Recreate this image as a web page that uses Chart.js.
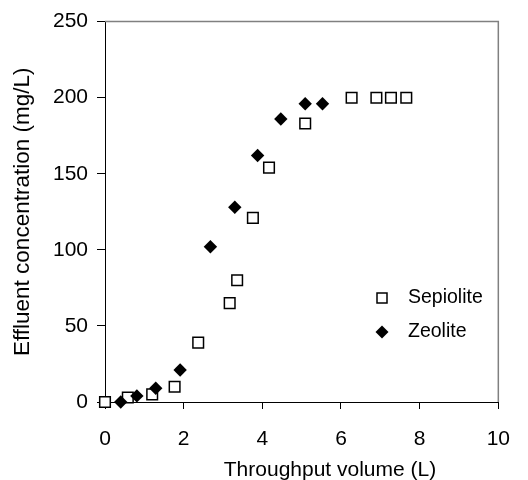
<!DOCTYPE html>
<html>
<head>
<meta charset="utf-8">
<script src="https://cdn.jsdelivr.net/npm/chart.js@4/dist/chart.umd.min.js"></script>
<style>
  html, body { margin: 0; padding: 0; background: #fff; }
  #wrap { width: 528px; height: 480px; }
</style>
</head>
<body>
<div id="wrap"><canvas id="myChart" width="528" height="480"></canvas></div>
<script>
// data
var seriesNames = ['Sepiolite', 'Zeolite'];
var sepioliteX = [0, 0.58, 1.2, 1.77, 2.37, 3.17, 3.36, 3.76, 4.17, 5.09, 6.27, 6.9, 7.27, 7.66];
var sepioliteY = [0, 3, 5, 10, 39, 65, 80, 121, 154, 183, 200, 200, 200, 200];
var zeoliteX = [0.4, 0.81, 1.29, 1.91, 2.68, 3.3, 3.88, 4.47, 5.09, 5.53];
var zeoliteY = [0, 4, 9, 21, 102, 128, 162, 186, 196, 196];
var xTicks = [0, 2, 4, 6, 8, 10];
var yTicks = [0, 50, 100, 150, 200, 250];
var xTitle = 'Throughput volume (L)';
var yTitle = 'Effluent concentration (mg/L)';

var FONT = 'Liberation Sans, Arial, sans-serif';

function toPoints(xs, ys) {
    var pts = [];
    for (var i = 0; i < xs.length; i++) {
        pts.push({ x: xs[i], y: ys[i] });
    }
    return pts;
}

// frame on top/right, x title (sits a bit right of centre) + legend inside the plot
var framePlugin = {
    id: 'frame',
    afterDraw: function(chart) {
        var ctx = chart.ctx;
        var a = chart.chartArea;
        ctx.save();
        ctx.strokeStyle = '#808080';
        ctx.lineWidth = 1.5;
        ctx.beginPath();
        ctx.moveTo(a.left, a.top);
        ctx.lineTo(a.right, a.top);
        ctx.lineTo(a.right, a.bottom);
        ctx.stroke();

        ctx.fillStyle = '#000';
        ctx.font = '21px ' + FONT;
        ctx.textAlign = 'center';
        ctx.textBaseline = 'alphabetic';
        ctx.fillText(xTitle, 330, 476);

        // legend
        var lx = 382, ly = 298, gap = 34;
        ctx.lineWidth = 1.5;
        ctx.strokeStyle = '#000';
        ctx.fillStyle = '#fff';
        ctx.beginPath();
        ctx.rect(lx - 5, ly - 5, 10, 10);
        ctx.fill();
        ctx.stroke();

        ctx.fillStyle = '#000';
        ctx.beginPath();
        ctx.moveTo(lx, ly + gap - 6.5);
        ctx.lineTo(lx + 6.5, ly + gap);
        ctx.lineTo(lx, ly + gap + 6.5);
        ctx.lineTo(lx - 6.5, ly + gap);
        ctx.closePath();
        ctx.fill();

        ctx.font = '19.5px ' + FONT;
        ctx.textBaseline = 'middle';
        ctx.textAlign = 'left';
        ctx.fillText(seriesNames[0], 408, ly);
        ctx.fillText(seriesNames[1], 408, ly + gap);
        ctx.restore();
    }
};

var config = {
    type: 'scatter',
    data: {
        datasets: [{
            label: seriesNames[0],
            data: toPoints(sepioliteX, sepioliteY),
            pointStyle: 'rect',
            pointRadius: 7.5,
            pointHoverRadius: 7.5,
            pointBackgroundColor: '#fff',
            pointBorderColor: '#000',
            pointBorderWidth: 1.5,
            clip: false,
            order: 2
        }, {
            label: seriesNames[1],
            data: toPoints(zeoliteX, zeoliteY),
            pointStyle: 'rectRot',
            pointRadius: 6.7,
            pointHoverRadius: 6.7,
            pointBackgroundColor: '#000',
            pointBorderColor: '#000',
            pointBorderWidth: 0,
            clip: false,
            order: 1
        }]
    },
    options: {
        responsive: false,
        animation: false,
        events: [],
        layout: { padding: { top: 15, right: 18, left: 0, bottom: 0 } },
        plugins: {
            legend: { display: false },
            tooltip: { enabled: false }
        },
        scales: {
            x: {
                type: 'linear',
                min: 0,
                max: 10,
                afterBuildTicks: function(scale) {
                    scale.ticks = xTicks.map(function(v) { return { value: v }; });
                },
                afterFit: function(scale) { scale.height = 78; },
                grid: { drawOnChartArea: false, tickLength: 7, color: '#000', tickColor: '#000' },
                border: { color: '#000', width: 1 },
                ticks: { color: '#000', font: { family: FONT, size: 21 }, padding: 18, maxRotation: 0 },
                title: { display: false }
            },
            y: {
                type: 'linear',
                min: 0,
                max: 250,
                afterBuildTicks: function(scale) {
                    scale.ticks = yTicks.map(function(v) { return { value: v }; });
                },
                afterFit: function(scale) { scale.width = 105; },
                grid: { drawOnChartArea: false, tickLength: 8, color: '#000', tickColor: '#000' },
                border: { color: '#000', width: 1 },
                ticks: { color: '#000', font: { family: FONT, size: 21 }, padding: 9 },
                title: {
                    display: true,
                    text: yTitle,
                    color: '#000',
                    font: { family: FONT, size: 22.5 },
                    padding: { top: 9, bottom: 0 }
                }
            }
        }
    },
    plugins: [framePlugin]
};

var ctx = document.getElementById('myChart').getContext('2d');
var myChart = new Chart(ctx, config);
</script>
</body>
</html>
